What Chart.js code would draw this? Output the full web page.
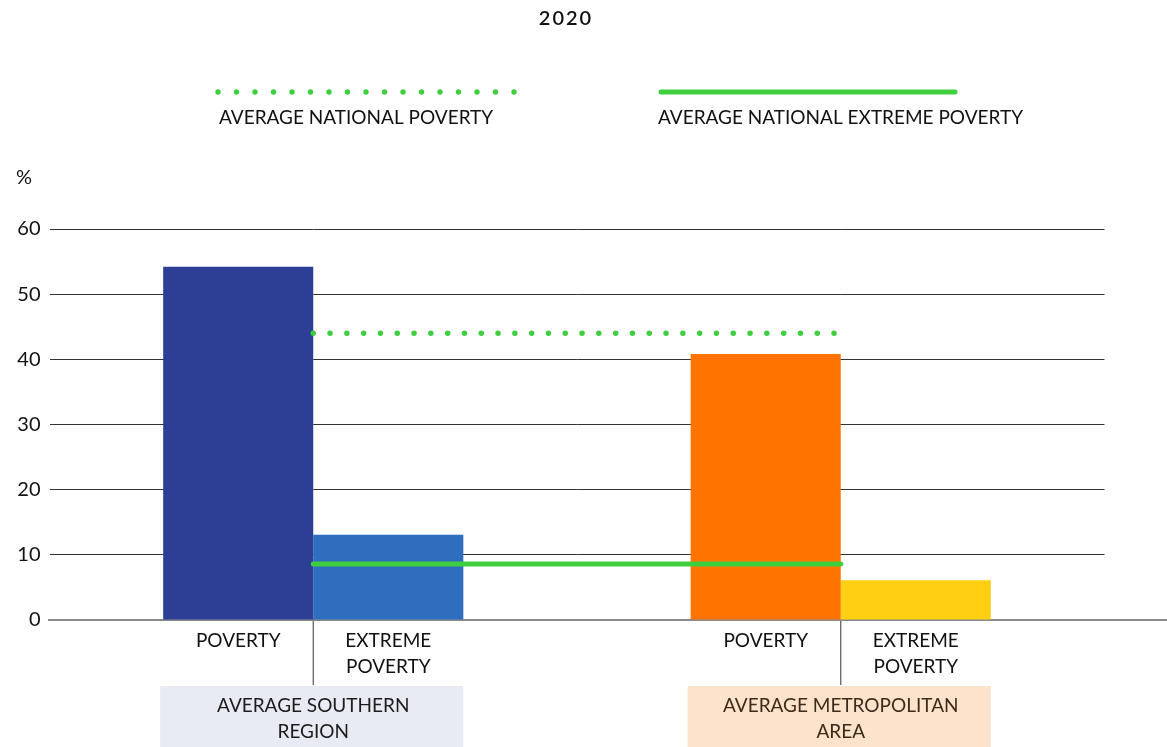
<!DOCTYPE html>
<html>
<head>
<meta charset="utf-8">
<script src="https://cdn.jsdelivr.net/npm/chart.js@4"></script>
<style>
  html, body { margin: 0; padding: 0; background: #fff; }
  #wrap { width: 1167px; height: 747px; position: relative; }
</style>
</head>
<body>
<div id="wrap"><canvas id="c"></canvas></div>
<script>
'use strict';

// --- data ---
const groups = ['AVERAGE SOUTHERN REGION', 'AVERAGE METROPOLITAN AREA'];
const groupLines = [['AVERAGE SOUTHERN', 'REGION'], ['AVERAGE METROPOLITAN', 'AREA']];
const povertyVals = [54.2, 40.8];
const extremeVals = [13.1, 6.1];
const nationalPoverty = [44.0, 44.0];
const nationalExtreme = [8.6, 8.6];
const yTicks = [0, 10, 20, 30, 40, 50, 60];

const FONT = 'Lato, "Noto Sans", sans-serif';
const GREEN = '#3ecf3e';
const povColors = ['#2c3f94', '#ff7300'];
const extColors = ['#2f6dbf', '#ffcf14'];
const boxColors = ['#e8ebf3', '#fde3cc'];
const boxText = ['#1c1c1c', '#3d2b1a'];

function txt(ctx, s, x, y, align, font, color){
  ctx.font = font; ctx.fillStyle = color; ctx.textAlign = align; ctx.textBaseline = 'middle';
  ctx.fillText(s, x, y);
}

const decor = {
  id: 'decor',
  beforeDatasetsDraw(chart){
    const { ctx, chartArea: ca } = chart;
    const y0 = chart.scales.y.getPixelForValue(0);
    ctx.save();
    ctx.strokeStyle = '#8a8a8a'; ctx.lineWidth = 2;
    ctx.beginPath(); ctx.moveTo(ca.left - 1.5, y0); ctx.lineTo(chart.width, y0); ctx.stroke();
    ctx.restore();
  },
  afterDraw(chart){
    const { ctx, chartArea: ca } = chart;
    ctx.save();
    // title
    ctx.letterSpacing = '2px';
    txt(ctx, '2020', 566, 19, 'center', '600 20px ' + FONT, '#111');
    ctx.letterSpacing = '0px';
    // legend
    ctx.fillStyle = GREEN;
    for (let i = 0; i < 17; i++){
      ctx.beginPath(); ctx.arc(218 + i * 18.5, 92, 2.7, 0, Math.PI * 2); ctx.fill();
    }
    ctx.strokeStyle = GREEN; ctx.lineWidth = 5; ctx.lineCap = 'round';
    ctx.beginPath(); ctx.moveTo(661, 92); ctx.lineTo(955, 92); ctx.stroke();
    txt(ctx, 'AVERAGE NATIONAL POVERTY', 219, 118, 'left', '19px ' + FONT, '#111');
    txt(ctx, 'AVERAGE NATIONAL EXTREME POVERTY', 658, 118, 'left', '19px ' + FONT, '#111');
    // unit
    txt(ctx, '%', 16, 178, 'left', '20px ' + FONT, '#111');

    // category labels under the bars
    const pm = chart.getDatasetMeta(0).data, em = chart.getDatasetMeta(1).data;
    const yb = ca.bottom;
    groups.forEach((g, i) => {
      const p = pm[i], e = em[i];
      const l = p.x - p.width / 2, r = e.x + e.width / 2, mid = (p.x + p.width / 2);
      ctx.strokeStyle = '#555'; ctx.lineWidth = 1.2; ctx.lineCap = 'butt';
      ctx.beginPath(); ctx.moveTo(mid, yb + 1); ctx.lineTo(mid, yb + 65); ctx.stroke();
      txt(ctx, 'POVERTY', p.x, yb + 21, 'center', '19px ' + FONT, '#111');
      txt(ctx, 'EXTREME', e.x, yb + 21, 'center', '19px ' + FONT, '#111');
      txt(ctx, 'POVERTY', e.x, yb + 47, 'center', '19px ' + FONT, '#111');
      ctx.fillStyle = boxColors[i];
      ctx.fillRect(l - 3, yb + 66, r - l + 3, chart.height - yb - 66);
      txt(ctx, groupLines[i][0], (l + r) / 2, yb + 86, 'center', '19px ' + FONT, boxText[i]);
      txt(ctx, groupLines[i][1], (l + r) / 2, yb + 112, 'center', '19px ' + FONT, boxText[i]);
    });
    ctx.restore();
  }
};

new Chart(document.getElementById('c'), {
  type: 'bar',
  data: {
    labels: groups,
    datasets: [
      { label: 'POVERTY', data: povertyVals, backgroundColor: povColors, order: 2,
        categoryPercentage: 0.569, barPercentage: 1 },
      { label: 'EXTREME POVERTY', data: extremeVals, backgroundColor: extColors, order: 2,
        categoryPercentage: 0.569, barPercentage: 1 },
      { type: 'line', label: 'AVERAGE NATIONAL POVERTY', data: nationalPoverty, borderColor: GREEN,
        borderWidth: 5.5, borderDash: [0, 16.8], borderCapStyle: 'round', pointRadius: 0, order: 0 },
      { type: 'line', label: 'AVERAGE NATIONAL EXTREME POVERTY', data: nationalExtreme, borderColor: GREEN,
        borderWidth: 5, borderCapStyle: 'round', pointRadius: 0, order: 0 }
    ]
  },
  options: {
    responsive: true, maintainAspectRatio: false, animation: false,
    layout: { padding: { top: 229, right: 62.5, left: 0, bottom: 0 } },
    plugins: { legend: { display: false }, tooltip: { enabled: false }, title: { display: false } },
    scales: {
      x: {
        grid: { display: false }, border: { display: false },
        ticks: { display: false },
        afterFit: s => { s.height = 127; }
      },
      y: {
        min: 0, max: 60,
        afterBuildTicks: s => { s.ticks = yTicks.map(v => ({ value: v })); },
        afterFit: s => { s.width = 49.5; },
        border: { display: false },
        grid: { color: c => c.tick.value === 0 ? 'rgba(0,0,0,0)' : '#333', lineWidth: 1, drawTicks: false },
        ticks: { color: '#111', font: { family: 'Lato', size: 20 }, padding: 9 }
      }
    }
  },
  plugins: [decor]
});
</script>
</body>
</html>
